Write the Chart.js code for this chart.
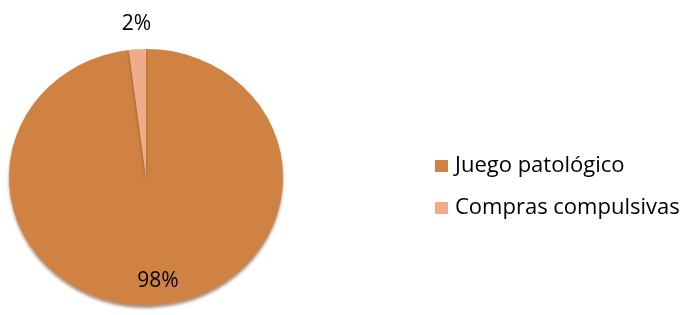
<!DOCTYPE html>
<html>
<head>
<meta charset="utf-8">
<script src="https://cdn.jsdelivr.net/npm/chart.js@4.4.1/dist/chart.umd.min.js"></script>
<style>
  html, body { margin: 0; padding: 0; background: #fff; }
  #wrap { position: relative; width: 693px; height: 315px; }
</style>
</head>
<body>
<div id="wrap"><canvas id="pie" width="693" height="315"></canvas></div>
<script>
// data
const categories = ['Juego patológico', 'Compras compulsivas'];
const shares = [98, 2];
const pctLabels = ['98%', '2%'];
const sliceColors = ['#CF8242', '#EFAC8A'];

const FONT = '"Open Sans", "Liberation Sans", sans-serif';

// squash the pie a little vertically so it reads as a tilted disc
const tiltPlugin = {
  id: 'tilt',
  beforeDatasetsDraw(chart) {
    const arc = chart.getDatasetMeta(0).data[0];
    const ctx = chart.ctx;
    ctx.save();
    ctx.translate(arc.x, arc.y);
    ctx.scale(1, 0.935);
    ctx.translate(-arc.x, -arc.y);
    // darker rim at the bottom edge
    ctx.shadowColor = 'rgba(110, 55, 15, 0.55)';
    ctx.shadowOffsetY = 3;
    ctx.shadowBlur = 3;
  },
  afterDatasetsDraw(chart) {
    chart.ctx.restore();
  }
};

// percentage labels + legend on the right
const labelPlugin = {
  id: 'pctLabels',
  afterDraw(chart) {
    const ctx = chart.ctx;
    const meta = chart.getDatasetMeta(0);
    ctx.save();
    ctx.fillStyle = '#000';
    ctx.font = '21px ' + FONT;
    ctx.textAlign = 'center';
    ctx.textBaseline = 'middle';
    meta.data.forEach((arc, i) => {
      const mid = (arc.startAngle + arc.endAngle) / 2;
      const big = shares[i] > 50;
      const r = big ? arc.outerRadius * 0.81 : arc.outerRadius + 16;
      const x = arc.x + Math.cos(mid) * r + (big ? 5 : 0);
      const y = arc.y + Math.sin(mid) * r * (big ? 0.935 : 1.0);
      ctx.fillText(pctLabels[i], x, y);
    });

    // legend
    ctx.font = '22px ' + FONT;
    ctx.textAlign = 'left';
    const lx = 435, ys = [166, 208];
    categories.forEach((c, i) => {
      ctx.fillStyle = sliceColors[i];
      ctx.fillRect(lx, ys[i] - 6, 13, 12);
      ctx.fillStyle = '#000';
      ctx.fillText(c, lx + 20, ys[i]);
    });
    ctx.restore();
  }
};

new Chart(document.getElementById('pie'), {
  type: 'pie',
  data: {
    labels: categories,
    datasets: [{
      data: shares,
      backgroundColor: sliceColors,
      borderWidth: 0
    }]
  },
  options: {
    responsive: false,
    animation: false,
    layout: { padding: { left: 9, right: 410, top: 40, bottom: 1 } },
    plugins: {
      legend: { display: false },
      tooltip: { enabled: false }
    }
  },
  plugins: [tiltPlugin, labelPlugin]
});
</script>
</body>
</html>
